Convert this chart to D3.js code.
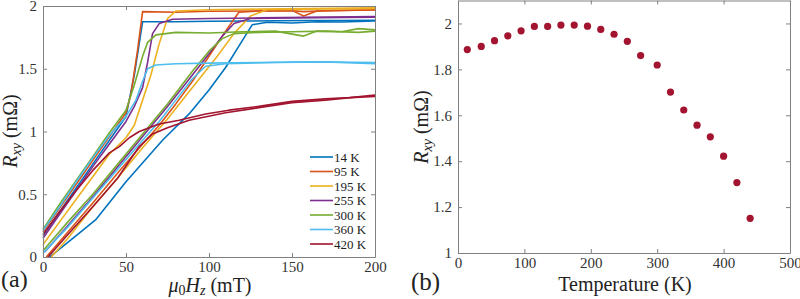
<!DOCTYPE html>
<html>
<head>
<meta charset="utf-8">
<script src="https://cdn.jsdelivr.net/npm/d3@7"></script>
<style>
  body { margin: 0; background: #fff; }
  svg text { font-family: "Liberation Serif", "Times New Roman", Times, "DejaVu Serif", serif; }
</style>
</head>
<body>
<div id="container"></div>
<script>
// ---- data for panel (a): R_xy vs field, two sweeps per temperature ----
let temps = ["14 K", "95 K", "195 K", "255 K", "300 K", "360 K", "420 K"];
let colorsA = ["#0072BD", "#D95319", "#EDB120", "#7E2F8E", "#77AC30", "#4DBEEE", "#A2142F"];

let early14 = [[0,0.17],[10,0.36],[20,0.55],[30,0.74],[40,0.93],[50,1.12],[55,1.45],[60,1.875],[80,1.875],[100,1.878],[120,1.88],[140,1.882],[160,1.885],[180,1.884],[200,1.887]];
let late14 = [[4,0],[20,0.17],[32,0.3],[50,0.6],[72,0.93],[88,1.14],[100,1.33],[110,1.51],[118,1.68],[126,1.85],[135,1.87],[150,1.865],[165,1.875],[180,1.872],[200,1.88]];

let early95 = [[0,0.2],[10,0.39],[20,0.58],[30,0.77],[40,0.96],[50,1.15],[53,1.3],[57,1.65],[60,1.955],[80,1.95],[100,1.958],[130,1.96],[150,1.962],[157,1.955],[170,1.962],[200,1.968]];
let late95 = [[2,0],[15,0.2],[30,0.43],[45,0.67],[60,0.9],[70,1.05],[80,1.22],[90,1.4],[100,1.6],[110,1.8],[118,1.95],[130,1.96],[150,1.965],[157,1.92],[165,1.96],[180,1.965],[200,1.97]];

let early195 = [[0,0.1],[10,0.28],[20,0.46],[30,0.64],[40,0.82],[50,0.95],[55,1.05],[60,1.25],[65,1.45],[70,1.7],[75,1.9],[80,1.96],[100,1.97],[130,1.975],[160,1.98],[200,1.985]];
let late195 = [[5,0],[15,0.15],[30,0.4],[45,0.63],[60,0.87],[75,1.1],[90,1.35],[105,1.6],[115,1.78],[125,1.92],[135,1.97],[160,1.975],[200,1.98]];

let early255 = [[0,0.15],[10,0.34],[20,0.53],[30,0.72],[40,0.9],[50,1.08],[55,1.2],[60,1.35],[63,1.55],[66,1.78],[70,1.86],[78,1.895],[100,1.9],[130,1.905],[160,1.91],[200,1.915]];
let late255 = [[1,0.04],[15,0.25],[30,0.48],[45,0.72],[60,0.96],[75,1.2],[90,1.45],[100,1.62],[108,1.76],[115,1.86],[125,1.9],[150,1.905],[200,1.91]];

let early300 = [[0,0.22],[10,0.42],[20,0.61],[30,0.8],[40,0.99],[50,1.17],[55,1.37],[60,1.6],[63,1.71],[68,1.77],[80,1.79],[100,1.785],[120,1.795],[140,1.8],[157,1.76],[165,1.8],[180,1.795],[190,1.82],[200,1.81]];
let late300 = [[0,0.05],[15,0.28],[30,0.5],[45,0.74],[60,0.98],[75,1.22],[90,1.48],[100,1.64],[108,1.74],[115,1.78],[130,1.79],[150,1.795],[170,1.8],[190,1.79],[200,1.8]];

let early360 = [[0,0.21],[10,0.4],[20,0.6],[30,0.79],[40,0.97],[50,1.12],[56,1.25],[60,1.4],[63,1.5],[68,1.53],[80,1.54],[100,1.545],[130,1.55],[160,1.555],[200,1.55]];
let late360 = [[0,0.03],[15,0.24],[30,0.47],[45,0.7],[60,0.93],[70,1.08],[80,1.25],[90,1.42],[98,1.52],[110,1.54],[140,1.55],[170,1.555],[200,1.54]];

let early420 = [[0,0.18],[10,0.36],[20,0.53],[30,0.69],[40,0.83],[46,0.88],[52,0.95],[58,1.0],[70,1.06],[82,1.09],[98,1.14],[112,1.17],[130,1.2],[150,1.24],[170,1.26],[185,1.27],[200,1.29]];
let late420 = [[3,0],[15,0.18],[30,0.4],[45,0.63],[58,0.88],[66,0.98],[75,1.03],[88,1.09],[110,1.15],[130,1.19],[150,1.23],[170,1.25],[185,1.27],[200,1.28]];

let sweeps = [
  [early14, late14], [early95, late95], [early195, late195], [early255, late255],
  [early300, late300], [early360, late360], [early420, late420]
];

let xTicksA = [0, 50, 100, 150, 200];
let yTicksA = [0, 0.5, 1, 1.5, 2];

// ---- data for panel (b): saturated R_xy vs temperature ----
let temperature = [14, 35, 55, 75, 95, 115, 135, 155, 175, 195, 215, 235, 255, 275, 300, 320, 340, 360, 380, 400, 420, 440];
let rxy = [1.886, 1.9, 1.925, 1.946, 1.968, 1.987, 1.987, 1.993, 1.993, 1.988, 1.974, 1.953, 1.922, 1.86, 1.819, 1.701, 1.623, 1.557, 1.506, 1.422, 1.307, 1.151];

let xTicksB = [0, 100, 200, 300, 400, 500];
let yTicksB = [1, 1.2, 1.4, 1.6, 1.8, 2];

let w = 800;
let h = 299;

let svg = d3.select("#container")
  .append("svg")
  .attr("width", w)
  .attr("height", h);

// box-style axes like matlab: ticks point inward on all four sides
function boxAxes(g, x, y, xt, yt) {
  let [x0, x1] = x.range();
  let [y0, y1] = y.range();
  g.append("g")
    .attr("transform", "translate(0," + y0 + ")")
    .call(d3.axisBottom(x).tickValues(xt).tickSizeInner(-4).tickSizeOuter(0).tickPadding(4).tickFormat(d3.format("")));
  g.append("g")
    .attr("transform", "translate(0," + y1 + ")")
    .call(d3.axisTop(x).tickValues(xt).tickSizeInner(-4).tickSizeOuter(0).tickFormat(""));
  g.append("g")
    .attr("transform", "translate(" + x0 + ",0)")
    .call(d3.axisLeft(y).tickValues(yt).tickSizeInner(-4).tickSizeOuter(0).tickPadding(6).tickFormat(d3.format("")));
  g.append("g")
    .attr("transform", "translate(" + x1 + ",0)")
    .call(d3.axisRight(y).tickValues(yt).tickSizeInner(-4).tickSizeOuter(0).tickFormat(""));
  g.selectAll(".domain").attr("stroke", "#808080");
  g.selectAll(".tick line").attr("stroke", "#808080");
  g.selectAll(".tick text")
    .attr("fill", "#333")
    .attr("font-family", null)
    .style("font-size", "15px");
}

// ---------------- panel (a) ----------------
let xA = d3.scaleLinear().domain([0, 200]).range([43, 375]);
let yA = d3.scaleLinear().domain([0, 2]).range([257, 6]);

let gA = svg.append("g");
let line = d3.line()
  .x(d => xA(d[0]))
  .y(d => yA(d[1]));

sweeps.forEach(function (pair, i) {
  pair.forEach(function (s) {
    gA.append("path")
      .datum(s)
      .attr("fill", "none")
      .attr("stroke", colorsA[i])
      .attr("stroke-width", 1.6)
      .attr("stroke-linejoin", "round")
      .attr("d", line);
  });
});

boxAxes(gA, xA, yA, xTicksA, yTicksA);

// legend
let leg = gA.append("g");
temps.forEach(function (t, i) {
  let yy = 157 + i * 14.5;
  leg.append("line")
    .attr("x1", 310).attr("x2", 333)
    .attr("y1", yy).attr("y2", yy)
    .attr("stroke", colorsA[i])
    .attr("stroke-width", 1.6);
  leg.append("text")
    .attr("x", 334).attr("y", yy + 4.5)
    .attr("fill", "#222")
    .style("font-size", "13px")
    .text(t);
});

// labels
let ylabA = gA.append("text")
  .attr("transform", "translate(17," + 131 + ") rotate(-90)")
  .attr("text-anchor", "middle")
  .attr("fill", "#222")
  .style("font-size", "20px");
ylabA.append("tspan").style("font-style", "italic").text("R");
ylabA.append("tspan").style("font-style", "italic").style("font-size", "14px").attr("dy", 4).text("xy");
ylabA.append("tspan").attr("dy", -4).text(" (m\u03A9)");

let xlabA = gA.append("text")
  .attr("x", 210).attr("y", 292)
  .attr("text-anchor", "middle")
  .attr("fill", "#222")
  .style("font-size", "20px");
xlabA.append("tspan").style("font-style", "italic").text("\u03BC");
xlabA.append("tspan").style("font-size", "14px").attr("dy", 3).text("0");
xlabA.append("tspan").style("font-style", "italic").attr("dy", -3).text("H");
xlabA.append("tspan").style("font-style", "italic").style("font-size", "14px").attr("dy", 3).text("z");
xlabA.append("tspan").attr("dy", -3).text(" (mT)");

svg.append("text")
  .attr("x", 1).attr("y", 287)
  .attr("fill", "#222")
  .style("font-size", "24px")
  .text("(a)");

// ---------------- panel (b) ----------------
let xB = d3.scaleLinear().domain([0, 500]).range([458, 790]);
let yB = d3.scaleLinear().domain([1, 2.1]).range([253, 0.5]);

let gB = svg.append("g");
boxAxes(gB, xB, yB, xTicksB, yTicksB);

gB.selectAll("circle.pt")
  .data(temperature)
  .enter()
  .append("circle")
  .attr("class", "pt")
  .attr("cx", d => xB(d))
  .attr("cy", (d, i) => yB(rxy[i]))
  .attr("r", 3.6)
  .attr("fill", "#A2142F");

let ylabB = gB.append("text")
  .attr("transform", "translate(428," + 127 + ") rotate(-90)")
  .attr("text-anchor", "middle")
  .attr("fill", "#222")
  .style("font-size", "20px");
ylabB.append("tspan").style("font-style", "italic").text("R");
ylabB.append("tspan").style("font-style", "italic").style("font-size", "14px").attr("dy", 4).text("xy");
ylabB.append("tspan").attr("dy", -4).text(" (m\u03A9)");

gB.append("text")
  .attr("x", 625).attr("y", 291)
  .attr("text-anchor", "middle")
  .attr("fill", "#222")
  .style("font-size", "20px")
  .text("Temperature (K)");

svg.append("text")
  .attr("x", 411).attr("y", 290)
  .attr("fill", "#222")
  .style("font-size", "25px")
  .text("(b)");
</script>
</body>
</html>
